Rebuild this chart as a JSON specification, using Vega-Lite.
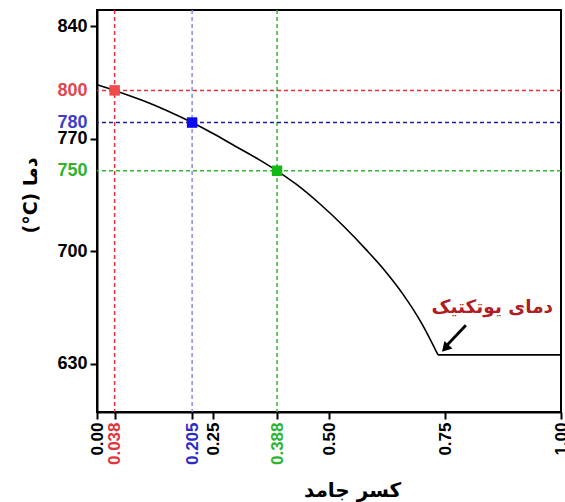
{
  "$schema": "https://vega.github.io/schema/vega-lite/v6.json",
  "autosize": {"type": "none"},
  "width": 464,
  "height": 402,
  "padding": {"left": 97, "top": 10, "right": 4, "bottom": 90},
  "background": "white",
  "config": {
    "view": {"stroke": "black", "strokeWidth": 2},
    "axis": {
      "grid": false,
      "domainColor": "black",
      "domainWidth": 2,
      "tickColor": "black",
      "tickWidth": 2,
      "tickSize": 7,
      "labelPadding": 3,
      "labelOverlap": false,
      "labelFont": "Liberation Sans",
      "labelFontWeight": "bold",
      "labelFontSize": 17,
      "labelColor": "black",
      "titleFont": "DejaVu Sans",
      "titleFontWeight": "bold",
      "titleColor": "black"
    }
  },
  "datasets": {
    "liquidus": [
      {"fs": 0.0, "T": 803.5},
      {"fs": 0.038, "T": 800},
      {"fs": 0.1, "T": 793.5},
      {"fs": 0.15, "T": 787.5},
      {"fs": 0.205, "T": 780},
      {"fs": 0.25, "T": 773.2},
      {"fs": 0.3, "T": 765},
      {"fs": 0.35, "T": 756.8},
      {"fs": 0.388, "T": 750},
      {"fs": 0.43, "T": 741.5},
      {"fs": 0.48, "T": 729.5},
      {"fs": 0.53, "T": 716},
      {"fs": 0.58, "T": 701},
      {"fs": 0.62, "T": 688},
      {"fs": 0.66, "T": 673},
      {"fs": 0.7, "T": 655},
      {"fs": 0.735, "T": 635.5}
    ],
    "eutectic": [
      {"fs": 0.735, "fs2": 1.0, "T": 635.5}
    ],
    "marked": [
      {"s": "a", "fs": 0.038, "T": 800},
      {"s": "b", "fs": 0.205, "T": 780},
      {"s": "c", "fs": 0.388, "T": 750}
    ],
    "arrow": [
      {"fs": 0.795, "T": 654, "fs2": 0.749, "T2": 640}
    ],
    "arrowHead": [
      {"fs": 0.7505, "T": 639.6}
    ],
    "note": [
      {"fs": 0.852, "T": 665.5, "label": "دمای یوتکتیک"}
    ]
  },
  "resolve": {"scale": {"color": "independent"}},
  "layer": [
    {
      "data": {"name": "marked"},
      "mark": {"type": "rule", "strokeDash": [4, 3], "strokeWidth": 1.5},
      "encoding": {
        "x": {
          "field": "fs",
          "type": "quantitative",
          "scale": {"domain": [0, 1], "nice": false, "zero": false},
          "axis": {
            "values": [0, 0.038, 0.205, 0.25, 0.388, 0.5, 0.75, 1],
            "labelAngle": -90,
            "labelExpr": "(datum.value == 0.038 || datum.value == 0.205 || datum.value == 0.388) ? format(datum.value, '.3f') : format(datum.value, '.2f')",
            "labelColor": {
              "condition": [
                {"test": "datum.value == 0.038", "value": "#e0333c"},
                {"test": "datum.value == 0.205", "value": "#2b2bc8"},
                {"test": "datum.value == 0.388", "value": "#2fb32f"}
              ],
              "value": "black"
            },
            "title": "کسر جامد",
            "titleFontSize": 20,
            "titleX": 255,
            "titleY": 78,
            "titleBaseline": "middle",
            "titleAlign": "center"
          }
        },
        "color": {
          "field": "s",
          "type": "nominal",
          "scale": {"domain": ["a", "b", "c"], "range": ["#e0333c", "#8a8ae6", "#33b833"]},
          "legend": null
        }
      }
    },
    {
      "data": {"name": "marked"},
      "mark": {"type": "rule", "strokeDash": [4, 3], "strokeWidth": 1.5},
      "encoding": {
        "y": {
          "field": "T",
          "type": "quantitative",
          "scale": {"domain": [600, 850], "nice": false, "zero": false},
          "axis": {
            "values": [630, 700, 750, 770, 780, 800, 840],
            "labelFontSize": 18,
            "labelColor": {
              "condition": [
                {"test": "datum.value == 800", "value": "#e0474f"},
                {"test": "datum.value == 780", "value": "#4040c8"},
                {"test": "datum.value == 750", "value": "#2fb32f"}
              ],
              "value": "black"
            },
            "tickColor": {
              "condition": {"test": "datum.value == 800 || datum.value == 780 || datum.value == 750", "value": "transparent"},
              "value": "black"
            },
            "title": "(°C) دما",
            "titleFontSize": 19,
            "titleAngle": -90,
            "titleX": -67,
            "titleY": 185,
            "titleAlign": "center",
            "titleBaseline": "middle"
          }
        },
        "color": {
          "field": "s",
          "type": "nominal",
          "scale": {"domain": ["a", "b", "c"], "range": ["#e0333c", "#1e1ea0", "#33b833"]},
          "legend": null
        }
      }
    },
    {
      "data": {"name": "liquidus"},
      "mark": {"type": "line", "color": "black", "strokeWidth": 1.6, "interpolate": "monotone"},
      "encoding": {
        "x": {"field": "fs", "type": "quantitative"},
        "y": {"field": "T", "type": "quantitative"}
      }
    },
    {
      "data": {"name": "eutectic"},
      "mark": {"type": "rule", "color": "black", "strokeWidth": 1.6},
      "encoding": {
        "x": {"field": "fs", "type": "quantitative"},
        "x2": {"field": "fs2"},
        "y": {"field": "T", "type": "quantitative"}
      }
    },
    {
      "data": {"name": "marked"},
      "mark": {"type": "square", "size": 110, "opacity": 1, "filled": true},
      "encoding": {
        "x": {"field": "fs", "type": "quantitative"},
        "y": {"field": "T", "type": "quantitative"},
        "color": {
          "field": "s",
          "type": "nominal",
          "scale": {"domain": ["a", "b", "c"], "range": ["#f04a4a", "#0a0af0", "#14b814"]},
          "legend": null
        }
      }
    },
    {
      "data": {"name": "arrow"},
      "mark": {"type": "rule", "color": "black", "strokeWidth": 2.8},
      "encoding": {
        "x": {"field": "fs", "type": "quantitative"},
        "y": {"field": "T", "type": "quantitative"},
        "x2": {"field": "fs2"},
        "y2": {"field": "T2"}
      }
    },
    {
      "data": {"name": "arrowHead"},
      "mark": {"type": "point", "shape": "triangle-up", "angle": 223, "size": 120, "filled": true, "color": "black", "opacity": 1},
      "encoding": {
        "x": {"field": "fs", "type": "quantitative"},
        "y": {"field": "T", "type": "quantitative"}
      }
    },
    {
      "data": {"name": "note"},
      "mark": {"type": "text", "font": "DejaVu Sans", "fontWeight": "bold", "fontSize": 18.5, "color": "#b01c22", "align": "center", "baseline": "middle"},
      "encoding": {
        "x": {"field": "fs", "type": "quantitative"},
        "y": {"field": "T", "type": "quantitative"},
        "text": {"field": "label"}
      }
    }
  ]
}
